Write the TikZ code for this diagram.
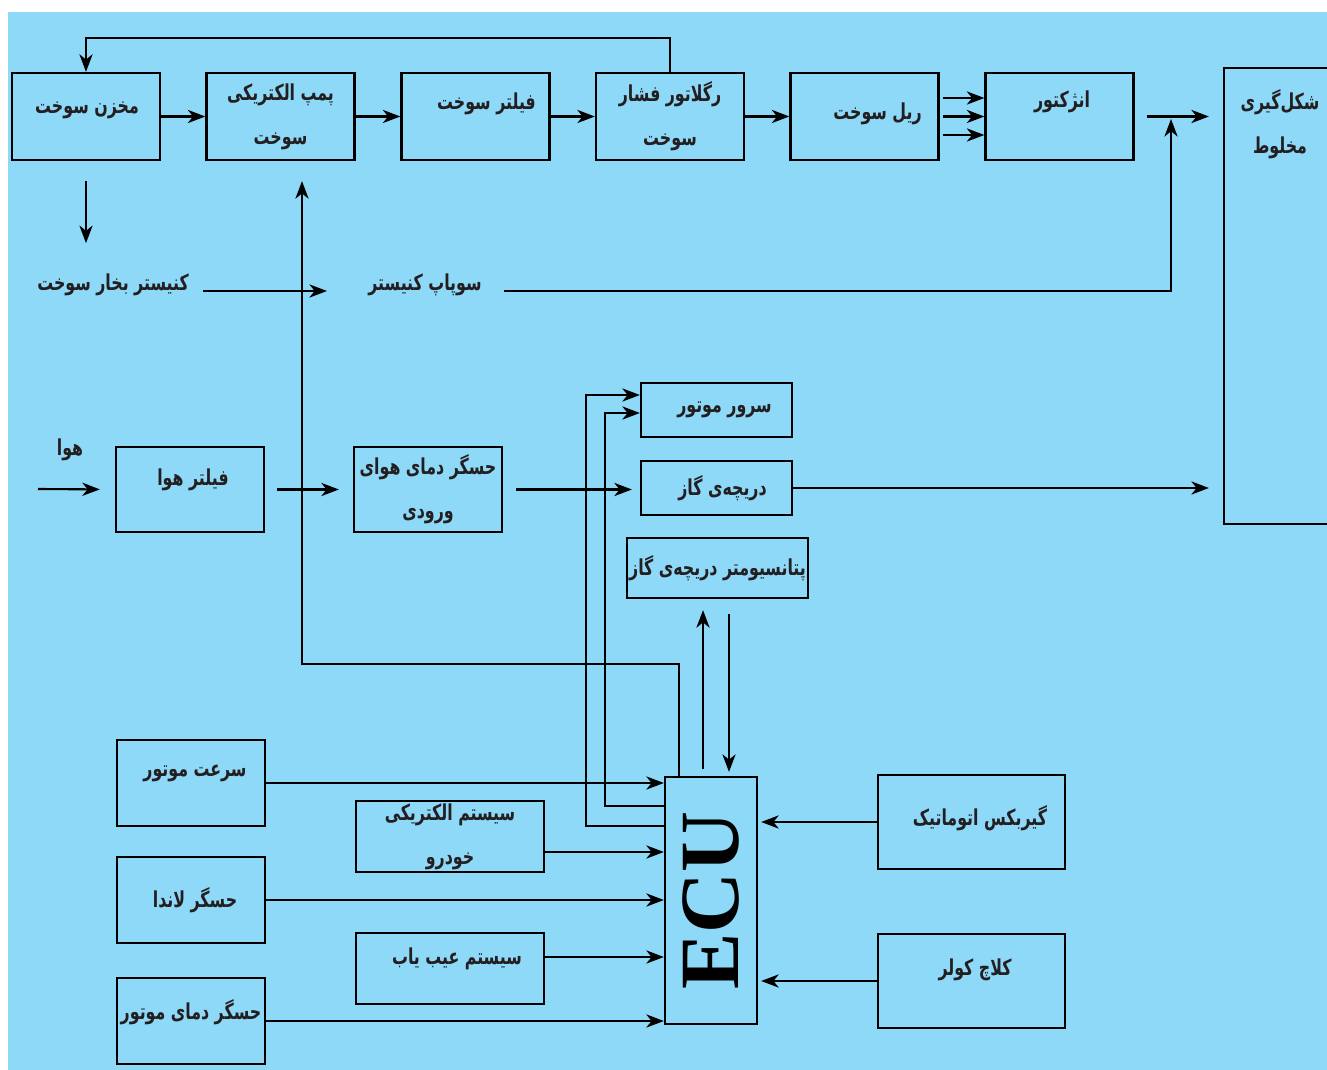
\documentclass[tikz,border=0pt]{standalone}
\usepackage{fontspec}
\usetikzlibrary{arrows.meta}
\newfontfamily\pfont[Script=Arabic, FakeStretch=0.72]{DejaVu Sans}
\newfontfamily\ecufont{Liberation Serif}
\TeXXeTstate=1
\newcommand{\rl}[1]{\beginR #1\endR}
\definecolor{bgblue}{RGB}{142,216,248}
\definecolor{inkgray}{RGB}{35,31,32}

\begin{document}
\begin{tikzpicture}[x=0.02cm, y=-0.02cm,
  blk/.style={rectangle, draw, line width=1.3pt, inner sep=0pt, align=center,
    font=\pfont\bfseries\fontsize{12.5}{25}\selectfont, text=inkgray},
  topbox/.style={blk, minimum width=2.96cm, minimum height=1.74cm},
  airbox/.style={blk, minimum width=2.96cm, minimum height=1.70cm},
  thinbox/.style={blk, minimum width=3.02cm, minimum height=1.08cm},
  inbox/.style={blk, minimum width=2.96cm, minimum height=1.72cm},
  midbox/.style={blk, minimum width=3.76cm, minimum height=1.42cm},
  sidebox/.style={blk, minimum width=3.74cm, minimum height=1.88cm},
  lbl/.style={font=\pfont\bfseries\fontsize{12.5}{25}\selectfont, text=inkgray, inner sep=1pt, align=center},
  arr/.style={-{Stealth[length=10pt,width=7.5pt,inset=3pt]}, line width=1.2pt},
]
\useasboundingbox (0,0) rectangle (1327,1070);
\fill[bgblue] (8,12) rectangle (1327,1070);

% ============================================================
% FUEL LINE
% ============================================================
\node[topbox] (tank) at (86,116.5) {};
\node[lbl] (tanktxt) at ([xshift=0.02cm, yshift=0.12cm]tank.center) {\rl{مخزن سوخت}};
\node[topbox] (pump) at (280.5,116.5) {\rl{پمپ الکتریکی}\\\rl{سوخت}};
\node[topbox] (ffilter) at (475.5,116.5) {};
\node[lbl] (ffiltertxt) at ([xshift=0.22cm, yshift=0.25cm]ffilter.center) {\rl{فیلتر سوخت}};
\node[topbox] (regulator) at (670,116.5) {\rl{رگلاتور فشار}\\\rl{سوخت}};
\node[topbox] (rail) at (864.5,116.5) {};
\node[lbl] (railtxt) at ([xshift=0.26cm, yshift=0.06cm]rail.center) {\rl{ریل سوخت}};
\node[topbox] (injector) at (1059.5,116.5) {};
\node[lbl] (injtxt) at ([xshift=0.05cm, yshift=0.3cm]injector.center) {\rl{انژکتور}};
\node[blk, minimum width=2.72cm, minimum height=9.12cm] (mix) at (1292,296) {};
\node[lbl] (mixtxt) at (1280,124) {\rl{شکل^^^^200cگیری}\\\rl{مخلوط}};

\draw[arr] (tank) -- (pump);
\draw[arr] (pump) -- (ffilter);
\draw[arr] (ffilter) -- (regulator);
\draw[arr] (regulator) -- (rail);
\foreach \dy in {-0.37,0,0.37}
  \draw[arr, shorten <=0.06cm] ([yshift=\dy cm]rail.east) -- ([yshift=\dy cm]injector.west);
\draw[arr, shorten <=0.24cm, shorten >=0.28cm] (injector.east) -- (injector.east -| mix.west);

% return line from regulator
\draw[arr] (regulator.north) -- ++(0,-34) -| (tank.north);

% ============================================================
% CANISTER
% ============================================================
\node[lbl, anchor=base] (canister) at (113,291) {\rl{کنیستر بخار سوخت}};
\node[lbl, anchor=base] (purge) at (425,291) {\rl{سوپاپ کنیستر}};
\coordinate (purgetip) at (327,291);
\coordinate (junction) at (1171,119);

\draw[arr, shorten <=0.4cm] (tank.south) -- ++(0,82);
\draw[arr] (canister.base east) ++(0.24cm,0) -- (purgetip);
\draw[arr] (purge.base east) ++(0.4cm,0) -| (junction);

% ============================================================
% AIR LINE
% ============================================================
\node[lbl] (air) at (70,450) {\rl{هوا}};
\coordinate (airin) at (38,489);
\node[airbox] (afilter) at (190,489.5) {};
\node[lbl] (afiltertxt) at ([xshift=0.06cm, yshift=0.19cm]afilter.center) {\rl{فیلتر هوا}};
\node[airbox] (airtemp) at (428,489.5) {\rl{حسگر دمای هوای}\\\rl{ورودی}};
\node[thinbox] (servo) at (716.5,410) {};
\node[lbl] (servotxt) at ([xshift=0.16cm]servo.center) {\rl{سرور موتور}};
\node[thinbox] (throttle) at (716.5,488) {};
\node[lbl] (throttletxt) at ([xshift=0.12cm]throttle.center) {\rl{دریچه^^^^200cی گاز}};
\node[blk, minimum width=3.62cm, minimum height=1.20cm] (tps) at (717.5,568) {\rl{پتانسیومتر دریچه^^^^200cی گاز}};

\draw[arr, shorten >=0.3cm] (airin) -- (afilter.west);
\draw[arr, shorten <=0.24cm, shorten >=0.28cm] (afilter) -- (airtemp);
\draw[arr, shorten <=0.26cm, shorten >=0.16cm] (airtemp.east) -- (airtemp.east -| throttle.west);
\draw[arr, shorten >=0.28cm] (throttle.east) -- (throttle.east -| mix.west);

% ============================================================
% ECU AND SENSORS
% ============================================================
\node[blk, minimum width=1.84cm, minimum height=4.94cm] (ECU) at (711,900.5) {};
\node[rotate=90, font=\ecufont\bfseries\fontsize{48}{48}\selectfont, inner sep=0pt] (ecutxt) at (ECU.center) {ECU};

\node[inbox] (speed) at (191,783) {};
\node[lbl] (speedtxt) at ([xshift=0.08cm, yshift=0.2cm]speed.center) {\rl{سرعت موتور}};
\node[midbox] (elec) at (450,836.5) {\rl{سیستم الکتریکی}\\\rl{خودرو}};
\node[inbox] (lambda) at (191,900) {};
\node[lbl] (lambdatxt) at ([xshift=0.08cm]lambda.center) {\rl{حسگر لاندا}};
\node[midbox] (diag) at (450,968.5) {};
\node[lbl] (diagtxt) at ([xshift=0.14cm, yshift=0.2cm]diag.center) {\rl{سیستم عیب یاب}};
\node[inbox] (cooltemp) at (191,1021) {};
\node[lbl] (cooltemptxt) at ([yshift=0.18cm]cooltemp.center) {\rl{حسگر دمای موتور}};
\node[sidebox] (gearbox) at (971.5,822) {};
\node[lbl] (gearboxtxt) at ([xshift=0.17cm, yshift=0.08cm]gearbox.center) {\rl{گیربکس اتوماتیک}};
\node[sidebox] (clutch) at (971.5,981) {};
\node[lbl] (clutchtxt) at ([xshift=0.07cm, yshift=0.22cm]clutch.center) {\rl{کلاچ کولر}};

\draw[arr] (speed.east) -- (speed.east -| ECU.west);
\draw[arr] ([yshift=-0.31cm]elec.east) -- ([yshift=-0.31cm]elec.east -| ECU.west);
\draw[arr] (lambda.east) -- (lambda.east -| ECU.west);
\draw[arr] ([yshift=0.23cm]diag.east) -- ([yshift=0.23cm]diag.east -| ECU.west);
\draw[arr] (cooltemp.east) -- (cooltemp.east -| ECU.west);
\draw[arr, shorten >=0.06cm] (gearbox.west) -- (gearbox.west -| ECU.east);
\draw[arr, shorten >=0.06cm] (clutch.west) -- (clutch.west -| ECU.east);

% ECU outputs
\draw[arr] ([xshift=-0.64cm]ECU.north) -- ++(0,-112) -| ([xshift=0.43cm,yshift=-0.4cm]pump.south);
\draw[arr] ([yshift=1.49cm]ECU.west) -- ++(-78,0) |- ([yshift=0.3cm]servo.west);
\draw[arr] ([yshift=1.89cm]ECU.west) -- ++(-59,0) |- ([yshift=-0.06cm]servo.west);
\draw[arr, shorten <=0.14cm, shorten >=0.22cm] ([xshift=-0.16cm]ECU.north) -- ([xshift=-0.16cm]ECU.north |- tps.south);
\draw[arr, shorten <=0.3cm, shorten >=0.08cm] ([xshift=0.36cm]ECU.north |- tps.south) -- ([xshift=0.36cm]ECU.north);

\end{tikzpicture}
\end{document}
